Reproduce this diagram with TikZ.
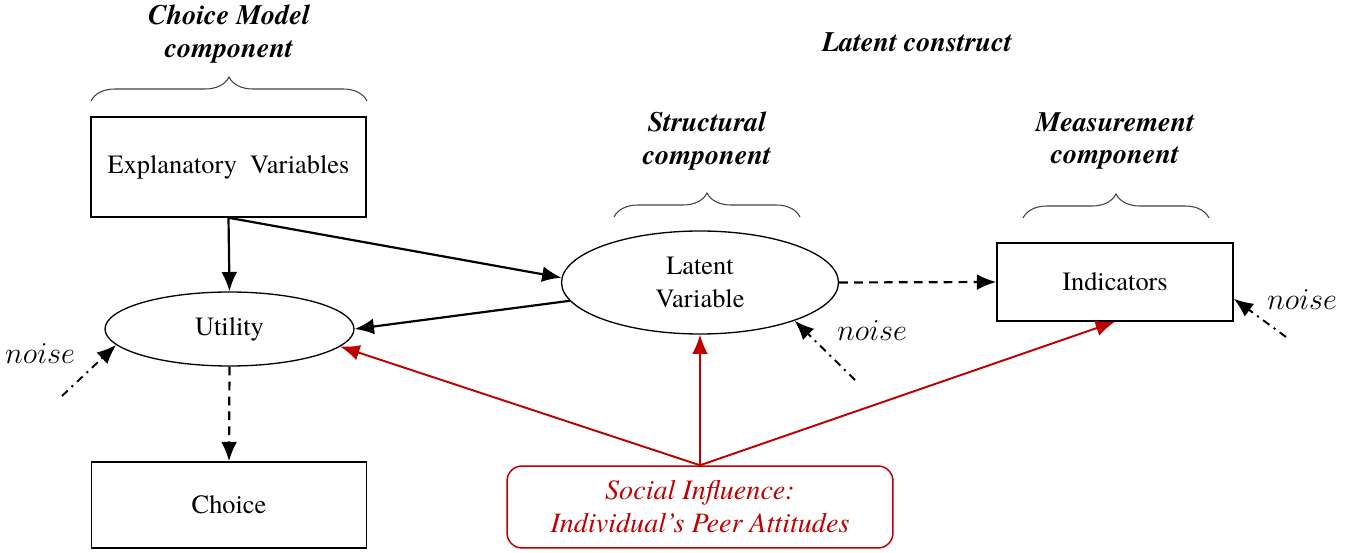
\documentclass[tikz,border=0pt]{standalone}
\usepackage{fontspec}
\setmainfont{texgyretermes}[Extension=.otf,UprightFont=*-regular,BoldFont=*-bold,ItalicFont=*-italic,BoldItalicFont=*-bolditalic]
\usetikzlibrary{arrows.meta,shapes.geometric,decorations.pathreplacing}
\definecolor{sired}{RGB}{192,0,0}
\begin{document}
\begin{tikzpicture}[x=0.02cm,y=-0.02cm,
  txt/.style={font=\fontsize{15}{18.7}\selectfont,align=center},
  box/.style={txt,draw,line width=0.85pt,inner sep=0pt},
  ell/.style={txt,draw,ellipse,line width=0.75pt,inner sep=0pt},
  title/.style={font=\fontsize{16}{18.7}\selectfont\bfseries\itshape,align=center},
  noiselbl/.style={font=\fontsize{17}{18}\selectfont},
  arr/.style={-{Latex[length=11pt,width=9pt]},line width=1.25pt},
  dasharr/.style={arr,dash pattern=on 5pt off 3.5pt},
  noisearr/.style={arr,line width=1.1pt,dash pattern=on 4.5pt off 3pt on 1.2pt off 3pt},
  redarr/.style={arr,draw=sired,fill=sired,line width=1.1pt},
  brc/.style={decorate,decoration={brace,amplitude=0.48cm},draw=black!75,line width=0.6pt}
]
\useasboundingbox (0,0) rectangle (1351,553);

% nodes
\node[box,minimum width=5.5cm,minimum height=2cm] (expl) at (228.5,167) {Explanatory\ \ Variables};
\node[ell,minimum width=4.98cm,minimum height=1.48cm] (util) at (229.5,329) {Utility};
\node[box,minimum width=5.5cm,minimum height=1.72cm] (choice) at (229,505) {Choice};
\node[ell,minimum width=5.54cm,minimum height=2.06cm] (lat) at (700,282.5) {Latent\\Variable};
\node[box,minimum width=4.72cm,minimum height=1.56cm] (ind) at (1115,282) {Indicators};
\node[box,draw=sired,text=sired,rounded corners=0.3cm,minimum width=7.72cm,minimum height=1.64cm,font=\fontsize{16}{18.7}\selectfont\itshape] (soc) at (700,507) {Social Influence:\\Individual’s Peer Attitudes};

% titles
\node[title] (tchoice) at (229,34) {Choice Model\\component};
\node[title] (tlat) at (917,42) {Latent construct};
\node[title] (tstruct) at (707,141) {Structural\\component};
\node[title] (tmeas) at (1115,141) {Measurement\\component};

% braces
\coordinate (b1a) at (91,101); \coordinate (b1b) at (367,101);
\coordinate (b2a) at (614,217); \coordinate (b2b) at (800,217);
\coordinate (b3a) at (1023,218); \coordinate (b3b) at (1209,218);
\draw[brc] (b1a) -- (b1b);
\draw[brc] (b2a) -- (b2b);
\draw[brc] (b3a) -- (b3b);

% noise labels and sources
\node[noiselbl] (n1) at (40,354) {$noise$};
\node[noiselbl] (n2) at (872,331) {$noise$};
\node[noiselbl] (n3) at (1302,300) {$noise$};
\coordinate (s1) at (62,396);
\coordinate (s2) at (855,380);
\coordinate (s3) at (1286,337);

% black connectors
\draw[arr] (expl.south) -- (util.north);
\draw[arr] (expl.south) -- (lat.178);
\draw[arr] (lat.188) -- (util.east);
\draw[dasharr] (util.south) -- (choice.north);
\draw[dasharr] (lat.east) -- (ind.west);

% noise connectors
\draw[noisearr] (s1) -- (util.188);
\draw[noisearr] (s2) -- (lat.-22);
\draw[noisearr] (s3) -- (ind.-8);

% red connectors
\draw[redarr] (soc.north) -- (util.-9);
\draw[redarr] (soc.north) -- (lat.south);
\draw[redarr] (soc.north) -- (ind.south);
\end{tikzpicture}
\end{document}
